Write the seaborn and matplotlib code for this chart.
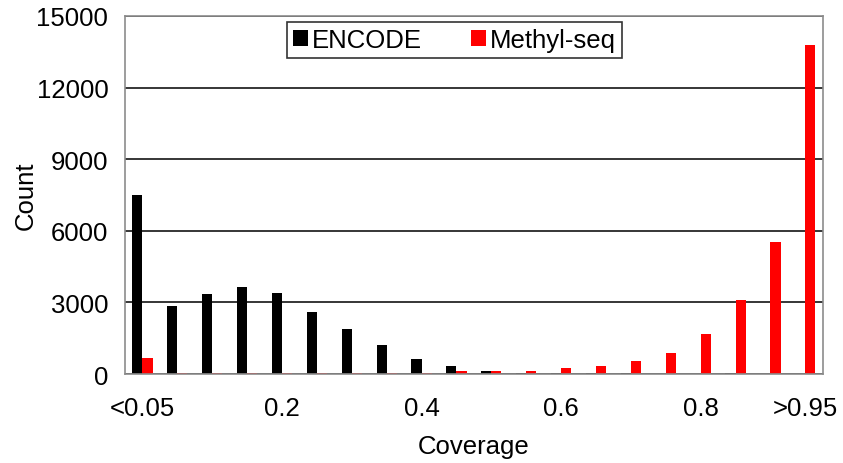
import matplotlib
matplotlib.use("Agg")
import matplotlib.pyplot as plt
import seaborn as sns
import pandas as pd

categories = [f"c{i}" for i in range(20)]
encode = [7500, 2850, 3350, 3630, 3400, 2580, 1880, 1210, 610, 335,
          125, 60, 30, 30, 30, 0, 0, 40, 0, 0]
methyl = [650, 30, 30, 30, 30, 30, 30, 50, 60, 140,
          125, 125, 240, 320, 530, 866, 1674, 3096, 5535, 13800]
tick_idx = [0, 4, 8, 12, 16, 19]
tick_labels = ["<0.05", "0.2", "0.4", "0.6", "0.8", ">0.95"]
series_names = ["ENCODE", "Methyl-seq"]

df = pd.DataFrame({
    "cat": categories * 2,
    "count": encode + methyl,
    "series": [series_names[0]] * 20 + [series_names[1]] * 20,
})

sns.set_theme(style="white")
plt.rcParams["font.family"] = ["Liberation Sans", "DejaVu Sans"]
plt.rcParams["text.color"] = "#000000"
plt.rcParams["axes.labelcolor"] = "#000000"
plt.rcParams["xtick.color"] = "#000000"
plt.rcParams["ytick.color"] = "#000000"

FS = 18.5

fig = plt.figure(figsize=(8.43, 4.64), dpi=100)
ax = fig.add_axes([0.1483, 0.1918, 0.8277, 0.7716])

sns.barplot(data=df, x="cat", y="count", hue="series", order=categories,
            hue_order=series_names, palette=["#000000", "#FF0000"],
            width=0.58, saturation=1, ax=ax, linewidth=0, errorbar=None)

ax.set_xlim(-0.5, 19.5)
ax.set_ylim(0, 15000)
ax.set_yticks([0, 3000, 6000, 9000, 12000, 15000])
ax.set_yticklabels(["0", "3000", "6000", "9000", "12000", "15000"])
ax.set_xticks(tick_idx)
ax.set_xticklabels(tick_labels)
ax.tick_params(axis="both", labelsize=FS, labelcolor="#000000")
ax.tick_params(axis="y", length=6, width=1, color="#808080", direction="out", pad=6)
ax.tick_params(axis="x", length=0, pad=16)

ax.set_axisbelow(True)
ax.yaxis.grid(True, color="#000000", linewidth=1.1)
ax.xaxis.grid(False)
for s in ax.spines.values():
    s.set_visible(True)
    s.set_color("#8c8c8c")
    s.set_linewidth(1.2)

ax.set_xlabel("Coverage", fontsize=FS, labelpad=10)
ax.set_ylabel("Count", fontsize=FS, labelpad=-1)

leg = ax.legend(loc="upper center", bbox_to_anchor=(0.472, 1.0), ncol=2,
                frameon=True, fontsize=FS, handlelength=0.6, handleheight=0.6,
                handletextpad=0.15, columnspacing=1.9, borderpad=0.22,
                borderaxespad=0.25, fancybox=False)
leg.get_frame().set_edgecolor("#000000")
leg.get_frame().set_linewidth(1.2)
for t in leg.get_texts():
    t.set_color("#000000")

fig.savefig("out.png", dpi=100)
